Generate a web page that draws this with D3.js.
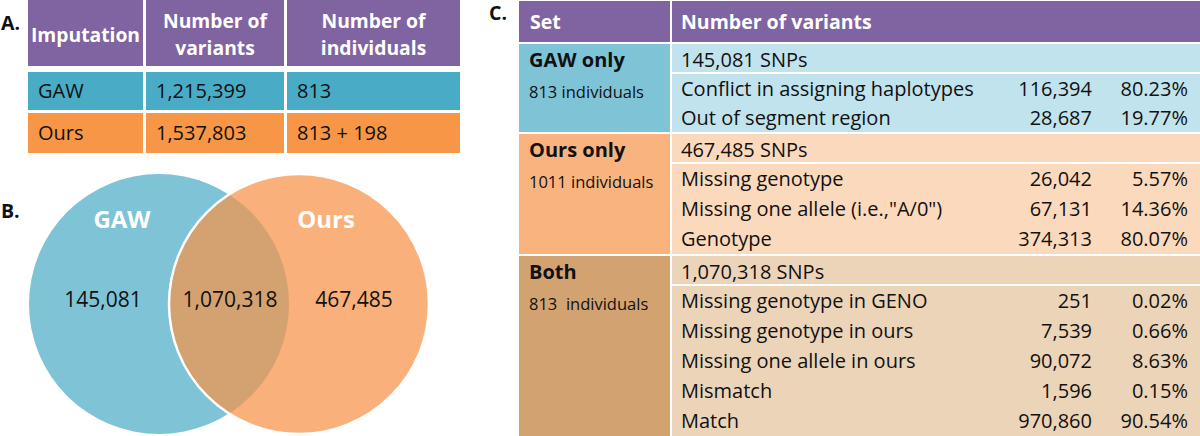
<!DOCTYPE html>
<html>
<head>
<meta charset="utf-8">
<script src="https://cdn.jsdelivr.net/npm/d3@7"></script>
<style>
  html, body { margin: 0; padding: 0; background: #fff; }
  svg { display: block; font-family: "Open Sans", "Noto Sans", sans-serif; }
  text { white-space: pre; }
</style>
</head>
<body>
<svg id="chart" width="1200" height="436"></svg>
<script>
// ---------------- DATA ----------------
const panelLabels = ["A.", "B.", "C."];

// Table A
const tableAHeaders = [["Imputation"], ["Number of", "variants"], ["Number of", "individuals"]];
const tableAImputation = ["GAW", "Ours"];
const tableAVariants = [1215399, 1537803];
const tableAIndividuals = ["813", "813 + 198"];

// Venn (B)
const vennSets = ["GAW", "Ours"];
const vennOnlyGAW = 145081;
const vennBoth = 1070318;
const vennOnlyOurs = 467485;

// Table C
const tableCHeaders = ["Set", "Number of variants"];
const setNames = ["GAW only", "Ours only", "Both"];
const setIndividuals = ["813 individuals", "1011 individuals", "813  individuals"];
const setTotals = [145081, 467485, 1070318];
const gawCategories = ["Conflict in assigning haplotypes", "Out of segment region"];
const gawCounts = [116394, 28687];
const gawPercents = ["80.23%", "19.77%"];
const oursCategories = ["Missing genotype", "Missing one allele (i.e.,\"A/0\")", "Genotype"];
const oursCounts = [26042, 67131, 374313];
const oursPercents = ["5.57%", "14.36%", "80.07%"];
const bothCategories = ["Missing genotype in GENO", "Missing genotype in ours", "Missing one allele in ours", "Mismatch", "Match"];
const bothCounts = [251, 7539, 90072, 1596, 970860];
const bothPercents = ["0.02%", "0.66%", "8.63%", "0.15%", "90.54%"];

// ---------------- STYLE ----------------
const PURPLE = "#8064a2";
const fmt = d3.format(",");
const svg = d3.select("#chart");
const BODY = 20;

// ---------------- PANEL LABELS ----------------
const labelPos = [[1, 30], [1, 218], [489, 20]];
svg.selectAll("text.panel").data(panelLabels).join("text")
  .attr("class", "panel")
  .attr("x", (d, i) => labelPos[i][0]).attr("y", (d, i) => labelPos[i][1])
  .attr("font-size", 19.5).attr("font-weight", 700).attr("fill", "#111")
  .text(d => d);

// ---------------- TABLE A ----------------
{
  const colEdges = [[28, 143], [146, 284], [287, 460]];
  const rowBands = [[0, 66], [72, 110], [113, 153]];
  const rowFill = [PURPLE, "#4aabc6", "#f79646"];
  const g = svg.append("g");
  const rows = [tableAHeaders].concat(tableAImputation.map((d, i) => [[d], [fmt(tableAVariants[i])], [tableAIndividuals[i]]]));
  rows.forEach((row, ri) => {
    row.forEach((cell, ci) => {
      g.append("rect")
        .attr("x", colEdges[ci][0]).attr("y", rowBands[ri][0])
        .attr("width", colEdges[ci][1] - colEdges[ci][0])
        .attr("height", rowBands[ri][1] - rowBands[ri][0])
        .attr("fill", rowFill[ri]);
      if (ri === 0) {
        const cx = (colEdges[ci][0] + colEdges[ci][1]) / 2;
        const t = g.append("text").attr("x", cx).attr("text-anchor", "middle")
          .attr("font-size", 19.3).attr("font-weight", 700).attr("fill", "#fff");
        if (cell.length === 1) {
          t.attr("y", 42).text(cell[0]);
        } else {
          cell.forEach((line, li) => t.append("tspan").attr("x", cx).attr("y", 28 + li * 27).text(line));
        }
      } else {
        const mid = (rowBands[ri][0] + rowBands[ri][1]) / 2;
        g.append("text").attr("x", colEdges[ci][0] + 10).attr("y", mid + 7)
          .attr("font-size", BODY).attr("fill", "#111").text(cell[0]);
      }
    });
  });
}

// ---------------- VENN (B) ----------------
{
  const x = d3.scaleLinear().domain([0, 1]).range([159, 299]);
  const cy = 304, r = 130;
  const g = svg.append("g");
  const defs = svg.append("defs");
  defs.append("clipPath").attr("id", "clipRight")
    .append("circle").attr("cx", x(1)).attr("cy", cy).attr("r", r);
  g.append("circle").attr("cx", x(0)).attr("cy", cy).attr("r", r).attr("fill", "#7fc3d6");
  g.append("circle").attr("cx", x(1)).attr("cy", cy).attr("r", r).attr("fill", "#f9b07a");
  g.append("circle").attr("cx", x(0)).attr("cy", cy).attr("r", r).attr("fill", "#d4a170")
    .attr("clip-path", "url(#clipRight)");
  g.append("circle").attr("cx", x(1)).attr("cy", cy).attr("r", r).attr("fill", "none")
    .attr("stroke", "#fff").attr("stroke-width", 2.5);

  const labelX = [122, 326];
  g.selectAll("text.set").data(vennSets).join("text").attr("class", "set")
    .attr("x", (d, i) => labelX[i]).attr("y", 228).attr("text-anchor", "middle")
    .attr("font-size", 24).attr("font-weight", 700).attr("fill", "#fff").text(d => d);
  const vals = [vennOnlyGAW, vennBoth, vennOnlyOurs];
  const valX = [103, 230, 354];
  g.selectAll("text.val").data(vals).join("text").attr("class", "val")
    .attr("x", (d, i) => valX[i]).attr("y", 307).attr("text-anchor", "middle")
    .attr("font-size", 21).attr("fill", "#111").text(d => fmt(d));
}

// ---------------- TABLE C ----------------
{
  const g = svg.append("g");
  const x0 = 519, xDiv = 670, x1 = 672, xEnd = 1200;
  const xText = 681, xCount = 1092, xPct = 1188;
  const sections = [
    { cats: gawCategories, counts: gawCounts, pcts: gawPercents, label: "#7fc3d6", row: "#c0e3ed", subH: 29 },
    { cats: oursCategories, counts: oursCounts, pcts: oursPercents, label: "#f9b37f", row: "#fbd9bd", subH: 30 },
    { cats: bothCategories, counts: bothCounts, pcts: bothPercents, label: "#d3a271", row: "#ecd4b9", subH: 30 }
  ];
  // header
  g.append("rect").attr("x", x0).attr("y", 1).attr("width", xDiv - x0).attr("height", 41).attr("fill", PURPLE);
  g.append("rect").attr("x", x1).attr("y", 1).attr("width", xEnd - x1).attr("height", 41).attr("fill", PURPLE);
  g.append("text").attr("x", 530).attr("y", 29).attr("font-size", 19.5).attr("font-weight", 700).attr("fill", "#fff").text(tableCHeaders[0]);
  g.append("text").attr("x", xText).attr("y", 29).attr("font-size", 19.5).attr("font-weight", 700).attr("fill", "#fff").text(tableCHeaders[1]);

  let top = 44;
  sections.forEach((s, si) => {
    const snpH = 28, gap = 2;
    const bodyTop = top + snpH + gap;
    const bottom = bodyTop + s.subH * s.cats.length;
    const y = d3.scaleBand().domain(d3.range(s.cats.length)).range([bodyTop, bottom]);
    // label cell
    g.append("rect").attr("x", x0).attr("y", top).attr("width", xDiv - x0).attr("height", bottom - top).attr("fill", s.label);
    // SNP row
    g.append("rect").attr("x", x1).attr("y", top).attr("width", xEnd - x1).attr("height", snpH).attr("fill", s.row);
    // body rows
    g.append("rect").attr("x", x1).attr("y", bodyTop).attr("width", xEnd - x1).attr("height", bottom - bodyTop).attr("fill", s.row);

    g.append("text").attr("x", 529).attr("y", top + 23).attr("font-size", 20).attr("font-weight", 700).attr("fill", "#111").text(setNames[si]);
    g.append("text").attr("x", 529).attr("y", bodyTop + 24).attr("font-size", 16.5).attr("fill", "#111").text(setIndividuals[si]);
    g.append("text").attr("x", xText).attr("y", top + 23).attr("font-size", BODY).attr("fill", "#111").text(fmt(setTotals[si]) + " SNPs");

    s.cats.forEach((c, i) => {
      const by = y(i) + 22;
      g.append("text").attr("x", xText).attr("y", by).attr("font-size", BODY).attr("fill", "#111").text(c);
      g.append("text").attr("x", xCount).attr("y", by).attr("text-anchor", "end").attr("font-size", BODY).attr("fill", "#111").text(fmt(s.counts[i]));
      g.append("text").attr("x", xPct).attr("y", by).attr("text-anchor", "end").attr("font-size", BODY).attr("fill", "#111").text(s.pcts[i]);
    });
    top = bottom + gap;
  });
}
</script>
</body>
</html>
